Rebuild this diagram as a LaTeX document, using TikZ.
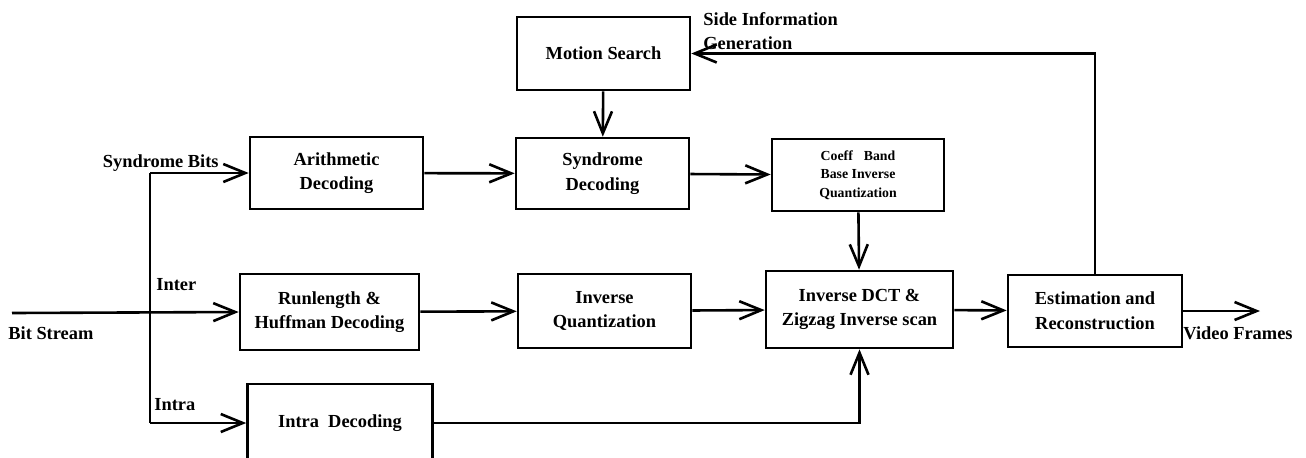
\documentclass[tikz,border=0pt]{standalone}
\usepackage{fontspec}
\setmainfont{Liberation Serif}
\usetikzlibrary{arrows.meta}

\begin{document}
\begin{tikzpicture}[
		x=0.5pt, y=-0.5pt,
		thickLine/.style={line width=1.3pt},
		flowLine/.style={thickLine, -{Straight Barb[length=11pt,width=9pt,line width=1.3pt]}},
		every node/.style={color=black, font=\bfseries\fontsize{9.2}{12.3}\selectfont},
		]
		\tikzset{
			blockNode/.style={draw, thickLine, rectangle, align=center, inner sep=2pt},
			smallBlock/.style={blockNode, font=\bfseries\fontsize{6.9}{9.3}\selectfont},
			labelText/.style={inner sep=0pt, align=left},
		}
		\useasboundingbox (0,0) rectangle (1306,457);
		\clip (0,0) rectangle (1306,457);
		
		% blocks
		\node[blockNode, minimum width=86.5pt, minimum height=36.5pt] (motion) at (603.5,53.5) {Motion Search};
		\node[blockNode, minimum width=86.5pt, minimum height=36pt] (arith) at (336.5,173) {Arithmetic\\Decoding};
		\node[blockNode, minimum width=86.5pt, minimum height=35.5pt] (syndec) at (602.5,173.5) {Syndrome\\Decoding};
		\node[smallBlock, minimum width=86pt, minimum height=36pt] (coeff) at (858,175) {Coeff\hspace{0.8em}Band\\Base Inverse\\Quantization};
		\node[blockNode, minimum width=89.5pt, minimum height=38pt] (runl) at (329.5,312) {Runlength \&\\Huffman Decoding};
		\node[blockNode, minimum width=86.5pt, minimum height=37pt] (invq) at (604.5,311) {Inverse\\Quantization};
		\node[blockNode, minimum width=93.5pt, minimum height=38.5pt] (idct) at (859.5,309.5) {Inverse DCT \&\\Zigzag Inverse scan};
		\node[blockNode, minimum width=87pt, minimum height=36pt] (est) at (1095,311) {Estimation and\\Reconstruction};
		\node[blockNode, minimum width=92.5pt, minimum height=39pt] (intra) at (340,423) {Intra~~Decoding};
		
		% labels
		\node[labelText, anchor=east] (lblSyn) at (219,163) {Syndrome Bits};
		\node[labelText, anchor=west] (lblInter) at (156,285) {Inter};
		\node[labelText, anchor=west] (lblBit) at (8,333) {Bit Stream};
		\node[labelText, anchor=west] (lblIntra) at (154,405) {Intra};
		\node[labelText, anchor=west] (lblVideo) at (1183,333) {Video Frames};
		\node[labelText, anchor=west] (lblSide) at (703,31) {Side Information\\Generation};
		
		% input split
		\coordinate (bsStart) at (12,313);
		\coordinate (split) at (150,313);
		\draw[flowLine] (bsStart) -- (runl.west);
		\draw[thickLine] (arith.west -| split) -- (intra.west -| split);
		\draw[flowLine] (arith.west -| split) -- (arith.west);
		\draw[flowLine] (intra.west -| split) -- (intra.west);
		
		\foreach \From/\To in {arith/syndec, syndec/coeff, runl/invq, invq/idct, idct/est, motion/syndec, coeff/idct}{
			\draw[flowLine] (\From) -- (\To);
		}
		
		\draw[flowLine] (intra.east) -| (idct.south);
		\draw[flowLine] (est.north) |- (motion.east);
		
		\coordinate (vidEnd) at (1260,311);
		\draw[flowLine] (est.east) -- (vidEnd);
	\end{tikzpicture}
\end{document}
